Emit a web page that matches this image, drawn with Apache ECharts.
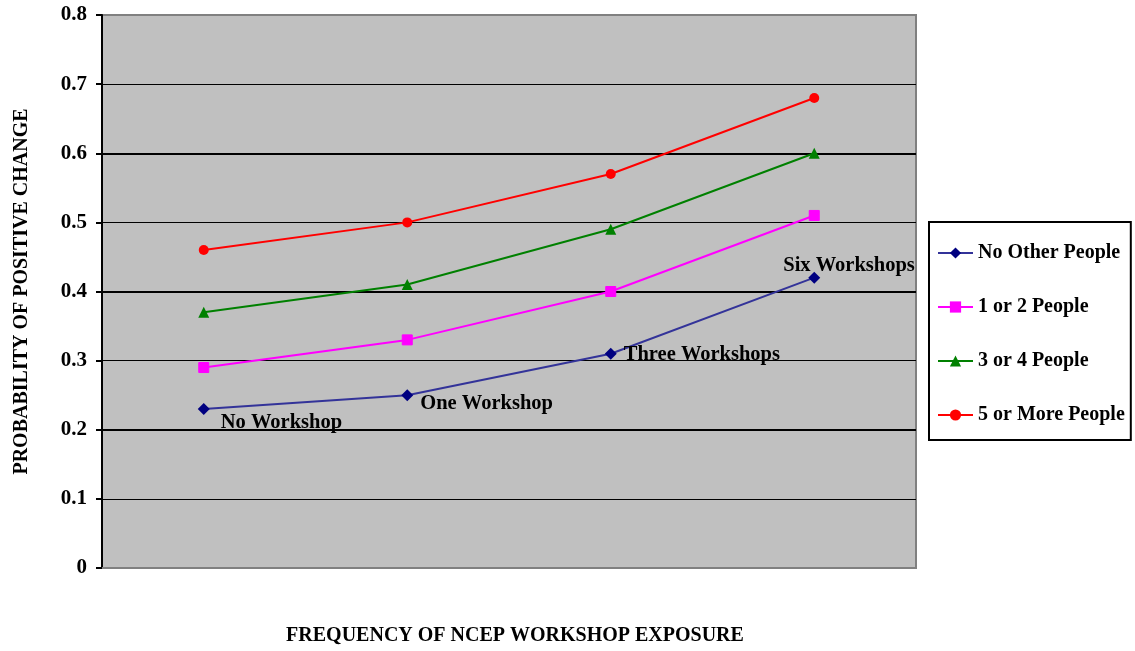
<!DOCTYPE html>
<html><head><meta charset="utf-8">
<script src="https://cdn.jsdelivr.net/npm/echarts@6/dist/echarts.min.js"></script>
<style>html,body{margin:0;padding:0;background:#fff}#c{width:1135px;height:651px}</style>
</head><body><div id="c"></div>
<script>
const categories = ['No Workshop', 'One Workshop', 'Three Workshops', 'Six Workshops'];
const seriesNames = ['No Other People', '1 or 2 People', '3 or 4 People', '5 or More People'];
const noOther = [0.23, 0.25, 0.31, 0.42];
const oneTwo = [0.29, 0.33, 0.40, 0.51];
const threeFour = [0.37, 0.41, 0.49, 0.60];
const fiveMore = [0.46, 0.50, 0.57, 0.68];
const yTicks = [0, 0.1, 0.2, 0.3, 0.4, 0.5, 0.6, 0.7, 0.8];

const FONT = '"Liberation Serif","Times New Roman",serif';
const labelOffsets = [[11, 14], [7, 9], [7, 1], [-37, -12]];

const chart = echarts.init(document.getElementById('c'));
const blueData = noOther.map((v, i) => ({
  value: v,
  label: { show: true, position: 'right', distance: 0, offset: labelOffsets[i], formatter: categories[i],
    color: '#000', fontFamily: FONT, fontWeight: 'bold', fontSize: 20.5 }
}));

chart.setOption({
  animation: false,
  backgroundColor: '#fff',
  grid: { left: 102, right: 219, top: 15, bottom: 83, containLabel: false, outerBoundsMode: 'none',
    show: true, backgroundColor: '#C0C0C0', borderColor: '#808080', borderWidth: 2 },
  xAxis: {
    type: 'category', data: categories, boundaryGap: true,
    axisLabel: { show: false }, axisTick: { show: false },
    axisLine: { lineStyle: { color: '#808080', width: 2 } }
  },
  yAxis: [{
    type: 'value', min: yTicks[0], max: yTicks[yTicks.length - 1], interval: 0.1,
    name: 'PROBABILITY OF POSITIVE CHANGE', nameLocation: 'middle', nameGap: 70, nameRotate: 90,
    nameTextStyle: { fontFamily: FONT, fontWeight: 'bold', fontSize: 20, color: '#000' },
    axisLine: { show: true, lineStyle: { color: '#000', width: 2 } },
    axisTick: { show: true, length: 6, lineStyle: { color: '#000', width: 2 } },
    axisLabel: { margin: 15, fontFamily: FONT, fontWeight: 'bold', fontSize: 21, color: '#000',
      formatter: v => String(Math.round(v * 10) / 10) },
    splitLine: { show: true, lineStyle: { width: 1, color: ['transparent', '#000', '#000', '#000', '#000', '#000', '#000', '#000', 'transparent'] } }
  }, {
    type: 'value', min: 0, max: 0.8, interval: 0.2, position: 'left',
    axisLine: { show: false }, axisTick: { show: false }, axisLabel: { show: false },
    splitLine: { show: true, lineStyle: { width: 2, color: ['transparent', '#000', '#000', '#000', 'transparent'] } }
  }],
  legend: {
    orient: 'vertical', left: 929, top: 222,
    padding: [21, 6, 15, 8], itemGap: 34, itemWidth: 35, itemHeight: 14,
    borderColor: '#000', borderWidth: 2, backgroundColor: '#fff',
    textStyle: { fontFamily: FONT, fontWeight: 'bold', fontSize: 20, color: '#000' },
    data: seriesNames
  },
  graphic: [{
    type: 'text', x: 515, y: 636,
    style: { text: 'FREQUENCY OF NCEP WORKSHOP EXPOSURE', font: 'bold 20px ' + FONT, fill: '#000', align: 'center', verticalAlign: 'middle' }
  }],
  series: [
    { name: seriesNames[0], type: 'line', data: blueData, symbol: 'diamond', symbolSize: 12,
      lineStyle: { color: '#333399', width: 2 }, itemStyle: { color: '#000080' } },
    { name: seriesNames[1], type: 'line', data: oneTwo, symbol: 'rect', symbolSize: 10,
      lineStyle: { color: '#FF00FF', width: 2 }, itemStyle: { color: '#FF00FF', borderColor: '#FF00FF' } },
    { name: seriesNames[2], type: 'line', data: threeFour, symbol: 'triangle', symbolSize: 11,
      lineStyle: { color: '#008000', width: 2 }, itemStyle: { color: '#008000' } },
    { name: seriesNames[3], type: 'line', data: fiveMore, symbol: 'circle', symbolSize: 10,
      lineStyle: { color: '#FF0000', width: 2 }, itemStyle: { color: '#FF0000' } }
  ]
});
</script></body></html>
